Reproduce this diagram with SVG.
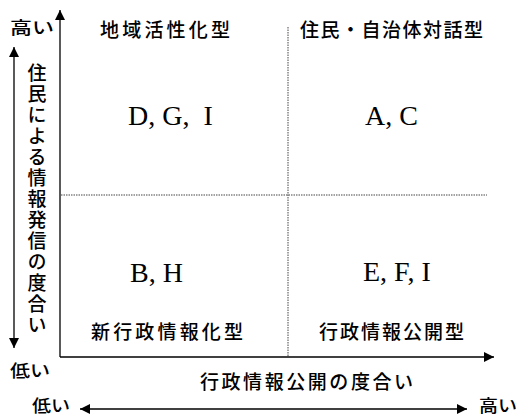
<svg xmlns="http://www.w3.org/2000/svg" width="521" height="417" viewBox="0 0 521 417">
<style>
.jp{font-family:"Noto Sans CJK JP","Noto Sans CJK SC",sans-serif;fill:#000;font-weight:500;}
.lt{font-family:"Liberation Serif","Times New Roman",serif;fill:#000;font-size:28px;}
.axis{stroke:#000;stroke-width:1.3;fill:none;}
.grid{stroke:#444;stroke-width:1;stroke-dasharray:1.5,1;fill:none;}
</style>
<defs>
<marker id="ah" viewBox="0 0 10 10" refX="10" refY="5" markerWidth="10" markerHeight="10" markerUnits="userSpaceOnUse" orient="auto-start-reverse">
<path d="M0,0 L10,5 L0,10 Z" fill="#000"/>
</marker>
</defs>
<rect width="521" height="417" fill="#fff"/>
<g id="connectors">
<path class="axis" d="M60,357 L60,10" marker-end="url(#ah)"/>
<path class="axis" d="M60,357 L494,357" marker-end="url(#ah)"/>
<path class="grid" d="M288,27 L288,357"/>
<path class="grid" d="M61,195 L487,195"/>
<path class="axis" d="M14,47 L14,348" marker-start="url(#ah)" marker-end="url(#ah)"/>
<path class="axis" d="M80,409 L467,409" marker-start="url(#ah)" marker-end="url(#ah)"/>
</g>
<g id="axis-labels">
<text class="jp" x="10" y="34" font-size="17" textLength="44" lengthAdjust="spacingAndGlyphs">高い</text>
<text class="jp" x="10" y="377" font-size="17" textLength="40" lengthAdjust="spacingAndGlyphs">低い</text>
<text class="jp" x="37" y="63" font-size="19" writing-mode="vertical-rl" style="letter-spacing:2px">住民による情報発信の度合い</text>
<text class="jp" x="200" y="389" font-size="19" textLength="213" lengthAdjust="spacing">行政情報公開の度合い</text>
<text class="jp" x="32" y="412" font-size="17" textLength="38" lengthAdjust="spacingAndGlyphs">低い</text>
<text class="jp" x="479" y="412" font-size="17" textLength="38" lengthAdjust="spacingAndGlyphs">高い</text>
</g>
<g id="q-top-left">
<text class="jp" x="100" y="37" font-size="19" textLength="130" lengthAdjust="spacing">地域活性化型</text>
<text class="lt" x="128" y="125" xml:space="preserve">D, G,  I</text>
</g>
<g id="q-top-right">
<text class="jp" x="300" y="37" font-size="19" textLength="183" lengthAdjust="spacing">住民・自治体対話型</text>
<text class="lt" x="365" y="125">A, C</text>
</g>
<g id="q-bottom-left">
<text class="lt" x="130" y="282">B, H</text>
<text class="jp" x="91" y="339" font-size="19" textLength="152" lengthAdjust="spacing">新行政情報化型</text>
</g>
<g id="q-bottom-right">
<text class="lt" x="363" y="281">E, F, I</text>
<text class="jp" x="319" y="339" font-size="19" textLength="145" lengthAdjust="spacing">行政情報公開型</text>
</g>
</svg>
